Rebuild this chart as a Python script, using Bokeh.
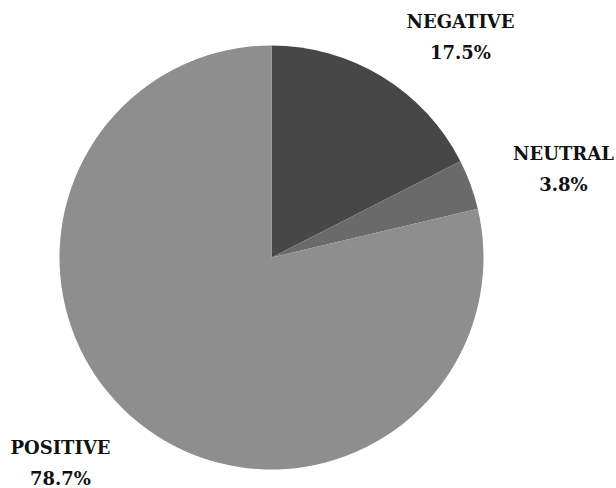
import math
from bokeh.plotting import figure
from bokeh.models import ColumnDataSource, Range1d
from bokeh.core.properties import value
from bokeh.embed import file_html
from bokeh.resources import INLINE

# Sentiment shares (percent)
categories = ["NEGATIVE", "NEUTRAL", "POSITIVE"]
shares = [17.5, 3.8, 78.7]
colors = ["#474747", "#6a6a6a", "#8e8e8e"]

W, H = 616, 488
cx, cy, r = 271, H - 257, 212

# Slices run clockwise from twelve o'clock
starts, ends = [], []
acc = 0.0
total = sum(shares)
for s in shares:
    a0 = math.pi / 2 - 2 * math.pi * acc / total
    acc += s
    a1 = math.pi / 2 - 2 * math.pi * acc / total
    starts.append(a0)
    ends.append(a1)

src = ColumnDataSource(dict(cat=categories, val=shares, start=starts, end=ends,
                            color=colors))

p = figure(width=W, height=H, output_backend="svg", toolbar_location=None,
           x_range=Range1d(0, W), y_range=Range1d(0, H), min_border=0)
p.axis.visible = False
p.grid.visible = False
p.outline_line_color = None
p.background_fill_color = "white"

p.wedge(x=cx, y=cy, radius=r, start_angle="start", end_angle="end",
        direction="clock", fill_color="color", line_color=None, source=src)

# Labels: name above, percentage below
label_x = [460, 563, 60]
label_y = [H - 21, H - 153, H - 447]
names = categories
pcts = [f"{v:.1f}%" for v in shares]
lsrc = ColumnDataSource(dict(x=label_x, y=label_y, name=names,
                             y2=[y - 31 for y in label_y], pct=pcts))
common = dict(text_font=value("DejaVu Serif"), text_font_style="bold",
              text_font_size="18px", text_color="#111111",
              text_align="center", text_baseline="middle", source=lsrc)
p.text(x="x", y="y", text="name", **common)
p.text(x="x", y="y2", text="pct", **common)

open("out.html", "w").write(file_html(p, INLINE))
